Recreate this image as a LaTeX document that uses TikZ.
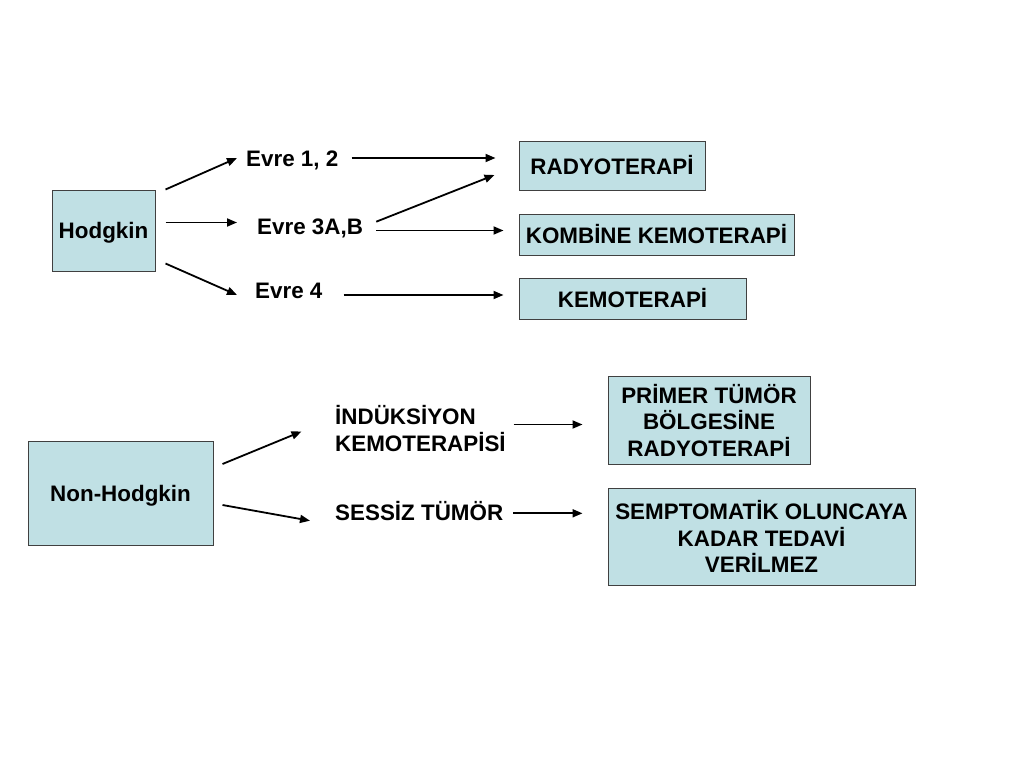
\documentclass[tikz,border=0pt]{standalone}
\usepackage{fontspec}
\setmainfont{Liberation Sans}
\usetikzlibrary{arrows.meta}
\definecolor{boxfill}{RGB}{192,224,228}
\definecolor{boxline}{RGB}{64,64,64}

\begin{document}
\begin{tikzpicture}[x=1pt, y=-1pt,
	every node/.style={font=\fontsize{22.4}{26.7}\selectfont\bfseries, inner sep=0pt},
	box/.style={draw=boxline, fill=boxfill, line width=1pt, align=center},
	arr/.style={line width=1.8pt, -{Triangle[length=10pt,width=8pt]}}]

	\useasboundingbox (0,0) rectangle (1024,768);

	\node [box, text depth=0pt, minimum width=103pt, minimum height=81pt] (hodgkin) at (103.5,230.5) {Hodgkin};
	\node [anchor=base west] (evre12) at (246,166) {Evre 1, 2};
	\node [anchor=base west] (evre3) at (257,234) {Evre 3A,B};
	\node [anchor=base west] (evre4) at (255,298) {Evre 4};
	\node [box, minimum width=186pt, minimum height=49pt] (radyo) at (612,165.5) {RADYOTERAPİ};
	\node [box, minimum width=275pt, minimum height=41pt] (kombine) at (656.5,234.5) {KOMBİNE KEMOTERAPİ};
	\node [box, minimum width=227pt, minimum height=41pt] (kemo) at (632.5,298.5) {KEMOTERAPİ};

	\node [box, text depth=0pt, minimum width=185pt, minimum height=104pt] (nonhodgkin) at (120.5,493) {Non-Hodgkin};
	\node [anchor=west, align=left] (induksiyon) at (335,428.5) {İNDÜKSİYON\\KEMOTERAPİSİ};
	\node [anchor=base west] (sessiz) at (335,520.7) {SESSİZ TÜMÖR};
	\node [box, minimum width=202pt, minimum height=87.5pt] (primer) at (709,420.25) {PRİMER TÜMÖR\\BÖLGESİNE\\RADYOTERAPİ};
	\node [box, minimum width=307pt, minimum height=97pt] (semptom) at (761.5,536.5) {SEMPTOMATİK OLUNCAYA\\KADAR TEDAVİ\\VERİLMEZ};

	\draw [arr] ([xshift=10pt]hodgkin.north east) -- ([shift={(-9pt,8pt)}]evre12.base west);
	\draw [arr] ([shift={(10pt,8pt)}]hodgkin.east) -- ([shift={(-20pt,11.5pt)}]evre3.base west);
	\draw [arr] ([shift={(10pt,8pt)}]hodgkin.south east) -- ([shift={(-18pt,3pt)}]evre4.base west);
	\draw [arr] ([shift={(13pt,8pt)}]evre12.base east) -- ([shift={(-23pt,7.5pt)}]radyo.west);
	\draw [arr] ([shift={(13pt,12.3pt)}]evre3.base east) -- ([shift={(-24pt,-9.5pt)}]radyo.west);
	\draw [arr] ([shift={(13pt,3.5pt)}]evre3.base east) -- ([shift={(-15pt,4pt)}]kombine.west);
	\draw [arr] ([shift={(21pt,3pt)}]evre4.base east) -- ([shift={(-15pt,3.5pt)}]kemo.west);

	\draw [arr] ([shift={(9pt,29pt)}]nonhodgkin.east) -- ([shift={(-33.5pt,-3pt)}]induksiyon.west);
	\draw [arr] ([shift={(9pt,-12pt)}]nonhodgkin.east) -- ([xshift=-25pt]sessiz.base west);
	\draw [arr] ([shift={(7.7pt,4pt)}]induksiyon.east) -- ([shift={(-25pt,-4.25pt)}]primer.west);
	\draw [arr] ([shift={(9.7pt,7.4pt)}]sessiz.base east) -- ([shift={(-25pt,23.2pt)}]semptom.west);

\end{tikzpicture}
\end{document}
